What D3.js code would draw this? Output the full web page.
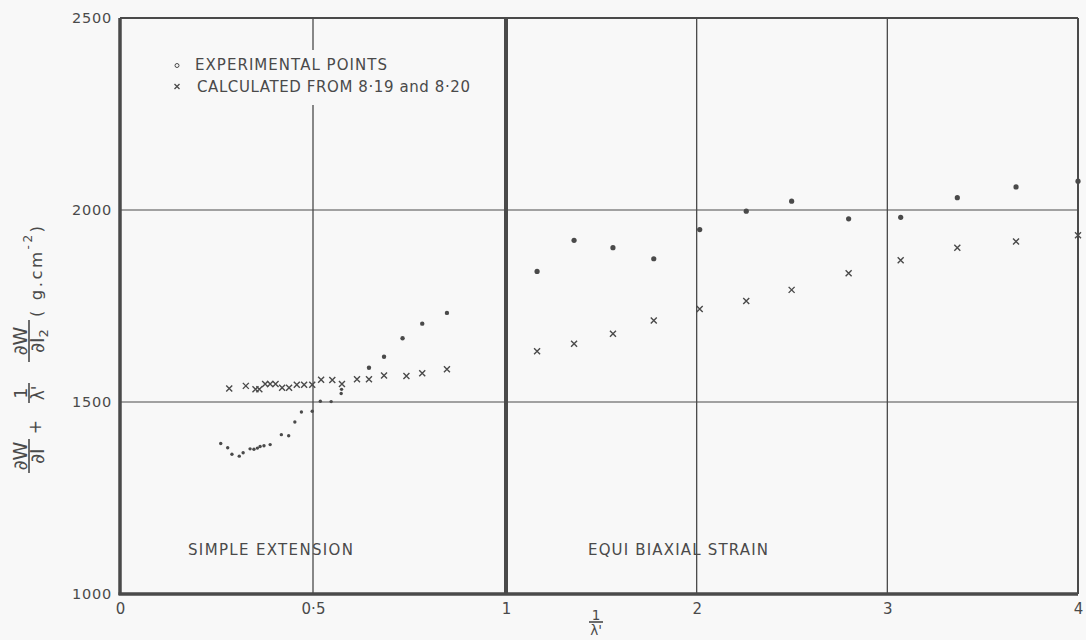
<!DOCTYPE html>
<html>
<head>
<meta charset="utf-8">
<script src="https://cdn.jsdelivr.net/npm/d3@7"></script>
<style>
body { margin: 0; background: #f8f8f8; }
svg text { font-family: "DejaVu Sans", sans-serif; fill: #4a4a4a; }
</style>
</head>
<body>
<svg width="1086" height="640"></svg>
<script>
var svg = d3.select("svg"),
    width = +svg.attr("width"),
    height = +svg.attr("height");

// simple extension: experimental points [1/lambda', value]
var extExp = [
  [0.261, 1392], [0.279, 1381], [0.290, 1364], [0.309, 1359], [0.319, 1368],
  [0.337, 1378], [0.347, 1377], [0.356, 1380], [0.363, 1384], [0.373, 1386],
  [0.389, 1389], [0.418, 1415], [0.437, 1412], [0.453, 1448], [0.470, 1474],
  [0.498, 1476], [0.519, 1502], [0.547, 1501], [0.573, 1522], [0.574, 1533],
  [0.645, 1589], [0.684, 1618], [0.732, 1666], [0.783, 1704], [0.847, 1732]
];
// simple extension: calculated from 8.19 and 8.20
var extCalc = [
  [0.283, 1535], [0.326, 1542], [0.351, 1533], [0.361, 1533], [0.376, 1547],
  [0.389, 1547], [0.403, 1547], [0.420, 1537], [0.438, 1537], [0.458, 1545],
  [0.477, 1545], [0.498, 1545], [0.521, 1558], [0.550, 1557], [0.575, 1547],
  [0.614, 1559], [0.645, 1559], [0.684, 1569], [0.742, 1568], [0.783, 1575],
  [0.847, 1585]
];
// equi biaxial strain
var biaxX = [1.163, 1.357, 1.561, 1.775, 2.016, 2.260, 2.498, 2.797, 3.070, 3.367, 3.675, 4.0];
var biaxExp = [1840, 1921, 1902, 1873, 1949, 1997, 2023, 1977, 1981, 2032, 2060, 2075];
var biaxCalc = [1632, 1652, 1678, 1712, 1742, 1763, 1792, 1835, 1869, 1902, 1918, 1934];

var xTicks = [0, 0.5, 1, 2, 3, 4];
var yTicks = [1000, 1500, 2000, 2500];
var xGrid = [0.5, 2, 3];
var yGrid = [1500, 2000];

var ink = "#4a4a4a";

// left part (0..1) is drawn at twice the scale of the right part (1..4)
var x = d3.scaleLinear().domain([0, 1, 4]).range([120, 506, 1078]);
var y = d3.scaleLinear().domain([1000, 2500]).range([594, 18]);

// GRID
svg.append("g").selectAll("line")
  .data(xGrid)
  .enter().append("line")
    .attr("x1", d => x(d)).attr("x2", d => x(d))
    .attr("y1", y(2500)).attr("y2", y(1000))
    .attr("stroke", ink).attr("stroke-width", 1.3);

svg.append("g").selectAll("line")
  .data(yGrid)
  .enter().append("line")
    .attr("x1", x(0)).attr("x2", x(4))
    .attr("y1", d => y(d)).attr("y2", d => y(d))
    .attr("stroke", ink).attr("stroke-width", 1.1);

// FRAME
var frame = svg.append("g").attr("stroke", ink);
frame.append("line").attr("x1", x(0)).attr("x2", x(4)).attr("y1", y(2500)).attr("y2", y(2500)).attr("stroke-width", 1.8);
frame.append("line").attr("x1", x(4)).attr("x2", x(4)).attr("y1", y(2500)).attr("y2", y(1000)).attr("stroke-width", 2);
frame.append("line").attr("x1", x(1)).attr("x2", x(1)).attr("y1", y(2500)).attr("y2", y(1000)).attr("stroke-width", 4);
frame.append("line").attr("x1", x(0)).attr("x2", x(0)).attr("y1", y(2500)).attr("y2", y(1000) + 1).attr("stroke-width", 3.5);
frame.append("line").attr("x1", x(0) - 1.5).attr("x2", x(4)).attr("y1", y(1000)).attr("y2", y(1000)).attr("stroke-width", 3.5);

// AXES
var xAxis = d3.axisBottom(x)
  .tickValues(xTicks)
  .tickSize(0)
  .tickFormat(d => String(d).replace(".", "·"));

var yAxis = d3.axisLeft(y)
  .tickValues(yTicks)
  .tickSize(0)
  .tickPadding(8)
  .tickFormat(d => d);

var gx = svg.append("g").attr("transform", `translate(0,${y(1000)})`).call(xAxis);
gx.select(".domain").remove();
gx.selectAll("text")
  .attr("y", 20).attr("dy", 0)
  .attr("font-size", 15).attr("font-family", null);

var gy = svg.append("g").attr("transform", `translate(${x(0)},0)`).call(yAxis);
gy.select(".domain").remove();
gy.selectAll("text")
  .attr("font-size", 14.5).attr("letter-spacing", 0.8).attr("font-family", null);

// POINTS
var pts = svg.append("g");

pts.selectAll(".ext-exp")
  .data(extExp)
  .enter().append("circle")
    .attr("class", "ext-exp")
    .attr("cx", d => x(d[0])).attr("cy", d => y(d[1]))
    .attr("r", d => d[0] > 0.6 ? 2.2 : 1.7)
    .attr("fill", ink);

pts.selectAll(".biax-exp")
  .data(biaxX)
  .enter().append("circle")
    .attr("class", "biax-exp")
    .attr("cx", d => x(d)).attr("cy", (d, i) => y(biaxExp[i]))
    .attr("r", 2.6)
    .attr("fill", ink);

var cross = "M-3,-3L3,3M-3,3L3,-3";

pts.selectAll(".ext-calc")
  .data(extCalc)
  .enter().append("path")
    .attr("class", "ext-calc")
    .attr("d", cross)
    .attr("transform", d => `translate(${x(d[0])},${y(d[1])})`)
    .attr("fill", "none").attr("stroke", ink).attr("stroke-width", 1.4);

pts.selectAll(".biax-calc")
  .data(biaxX)
  .enter().append("path")
    .attr("class", "biax-calc")
    .attr("d", cross)
    .attr("transform", (d, i) => `translate(${x(d)},${y(biaxCalc[i])})`)
    .attr("fill", "none").attr("stroke", ink).attr("stroke-width", 1.4);

// LEGEND
var legend = svg.append("g").attr("id", "legend");
legend.append("rect")
  .attr("x", 168).attr("y", 50).attr("width", 310).attr("height", 55)
  .attr("fill", "#f8f8f8");
legend.append("circle")
  .attr("cx", 177).attr("cy", 65.5).attr("r", 2)
  .attr("fill", "none").attr("stroke", ink).attr("stroke-width", 1);
legend.append("path")
  .attr("d", "M-2.5,-2.5L2.5,2.5M-2.5,2.5L2.5,-2.5")
  .attr("transform", "translate(177,86.5)")
  .attr("fill", "none").attr("stroke", ink).attr("stroke-width", 1.3);
legend.append("text")
  .attr("x", 195).attr("y", 70)
  .attr("font-size", 15).attr("textLength", 192)
  .text("EXPERIMENTAL POINTS");
legend.append("text")
  .attr("x", 197).attr("y", 92)
  .attr("font-size", 15).attr("textLength", 273)
  .text("CALCULATED FROM 8·19 and 8·20");

// REGION LABELS
svg.append("text")
  .attr("x", 188).attr("y", 555)
  .attr("font-size", 15).attr("textLength", 165)
  .text("SIMPLE EXTENSION");
svg.append("text")
  .attr("x", 588).attr("y", 555)
  .attr("font-size", 15).attr("textLength", 180)
  .text("EQUI BIAXIAL STRAIN");

// fraction helper: c = centre along the text, b = bar position
function frac(g, c, b, w, num, den, fs, gap) {
  g.append("text").attr("x", c).attr("y", b - 2.5)
    .attr("text-anchor", "middle").attr("font-size", fs).text(num);
  g.append("line").attr("x1", c - w / 2).attr("x2", c + w / 2)
    .attr("y1", b).attr("y2", b)
    .attr("stroke", ink).attr("stroke-width", 1.6);
  return g.append("text").attr("x", c).attr("y", b + gap)
    .attr("text-anchor", "middle").attr("font-size", fs).text(den);
}

// X LABEL  1/lambda'
var xl = svg.append("g");
frac(xl, 596, 622, 14, "1", "λ'", 13.5, 13);

// Y LABEL
var yl = svg.append("g").attr("transform", "rotate(-90)");
frac(yl, -456, 29, 34, "∂W", "∂I", 19, 15);
yl.append("text").attr("x", -427).attr("y", 41)
  .attr("text-anchor", "middle").attr("font-size", 17).text("+");
frac(yl, -393, 29, 20, "1", "λ'", 17, 15);
var d3t = frac(yl, -341, 29, 42, "∂W", "", 19, 15);
d3t.text("∂I").append("tspan").attr("font-size", 13).attr("dy", 4).text("2");
var units = yl.append("text").attr("x", -317).attr("y", 42)
  .attr("font-size", 16.5).attr("letter-spacing", 2.5);
units.append("tspan").text("( g.cm");
units.append("tspan").attr("font-size", 12).attr("dy", -10).text("-2");
units.append("tspan").attr("dy", 10).text(")");
</script>
</body>
</html>
